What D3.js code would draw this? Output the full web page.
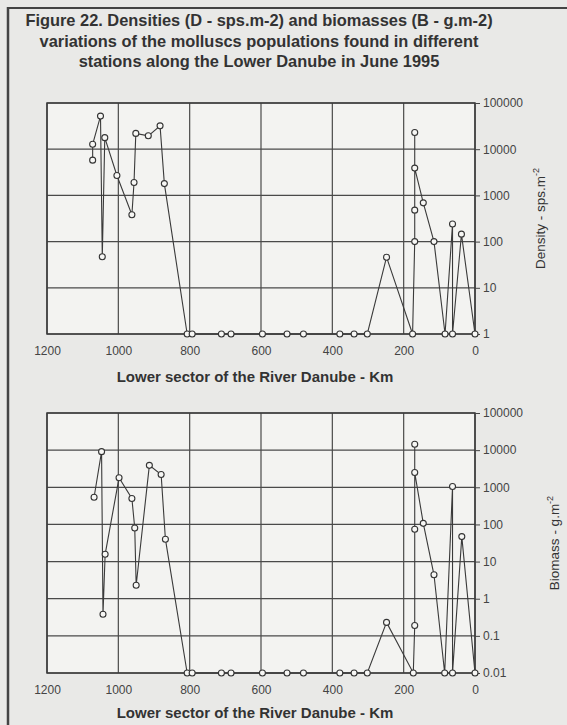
<!DOCTYPE html>
<html>
<head>
<meta charset="utf-8">
<script src="https://cdn.jsdelivr.net/npm/d3@7"></script>
<style>
 body { margin: 0; background: #e9e9e7; }
 svg { display: block; font-family: "Liberation Sans", Arial, sans-serif; }
</style>
</head>
<body>
<svg id="chart" width="567" height="725"></svg>
<script>
// densities, sps.m-2 (1 = nothing found)
var densKm = [1072, 1072, 1050, 1045, 1038, 1004, 962, 956, 951, 916, 883, 871,
 807, 793, 711, 684, 596, 527, 481, 379, 339, 302, 248, 175, 169, 169, 169, 169, 145, 115, 84, 63, 63, 38, 0];
var densVal = [5800, 12800, 52000, 47, 17800, 2700, 380, 1900, 22000, 19500, 32000, 1800,
 1, 1, 1, 1, 1, 1, 1, 1, 1, 1, 46, 1, 100, 480, 23000, 3900, 690, 100, 1, 240, 1, 145, 1];

// biomasses, g.m-2 (0.01 = nothing found)
var bioKm = [1068, 1047, 1043, 1037, 998, 962, 954, 950, 913, 880, 868,
 807, 793, 711, 684, 596, 527, 481, 379, 339, 302, 248, 173, 169, 169, 169, 169, 145, 115, 85, 63, 63, 37, 0];
var bioVal = [540, 9100, 0.38, 15.7, 1800, 500, 80, 2.3, 3900, 2200, 40,
 0.01, 0.01, 0.01, 0.01, 0.01, 0.01, 0.01, 0.01, 0.01, 0.01, 0.23, 0.01, 0.19, 74, 14400, 2500, 107, 4.4, 0.01, 1050, 0.01, 47, 0.01];

var kmTicks = [1200, 1000, 800, 600, 400, 200, 0];
var densTicks = [1, 10, 100, 1000, 10000, 100000];
var bioTicks = [0.01, 0.1, 1, 10, 100, 1000, 10000, 100000];

var titleLines = [
 "Figure 22. Densities (D - sps.m-2) and biomasses (B - g.m-2)",
 "variations of the molluscs populations found in different",
 "stations along the Lower Danube in June 1995"
];

var ink = "#333";
var svg = d3.select("#chart");

// frame
svg.append("line").attr("x1", 8).attr("y1", 8).attr("x2", 567).attr("y2", 8)
 .attr("stroke", "#444").attr("stroke-width", 2);
svg.append("line").attr("x1", 8).attr("y1", 7).attr("x2", 8).attr("y2", 725)
 .attr("stroke", "#444").attr("stroke-width", 2.5);

svg.selectAll(".title")
 .data(titleLines)
 .enter().append("text")
 .attr("class", "title")
 .attr("x", 259)
 .attr("y", function(d, i) { return 26 + i * 20.5; })
 .attr("text-anchor", "middle")
 .attr("font-size", 16.4)
 .attr("font-weight", "bold")
 .attr("fill", ink)
 .text(function(d) { return d; });

var x = d3.scaleLinear().domain([1200, 0]).range([47, 475]);

function panel(top, bottom, domain, ticks, km, vals, yTitle, unit, titleX, kmTitleY) {
 var y = d3.scaleLog().domain(domain).range([bottom, top]);
 var g = svg.append("g");

 g.append("rect")
  .attr("x", x(1200)).attr("y", top)
  .attr("width", x(0) - x(1200)).attr("height", bottom - top)
  .attr("fill", "#f3f3f1");

 // grid
 g.selectAll(".hg").data(ticks).enter().append("line")
  .attr("x1", x(1200)).attr("x2", x(0))
  .attr("y1", function(d) { return y(d); }).attr("y2", function(d) { return y(d); })
  .attr("stroke", "#4a4a4a").attr("stroke-width", 1.2);
 g.selectAll(".vg").data(kmTicks).enter().append("line")
  .attr("x1", function(d) { return x(d); }).attr("x2", function(d) { return x(d); })
  .attr("y1", top).attr("y2", bottom)
  .attr("stroke", "#4a4a4a").attr("stroke-width", 1.2);

 g.append("rect")
  .attr("x", x(1200)).attr("y", top)
  .attr("width", x(0) - x(1200)).attr("height", bottom - top)
  .attr("fill", "none").attr("stroke", "#3a3a3a").attr("stroke-width", 1.5);

 // right axis
 var ax = g.append("g")
  .attr("transform", "translate(" + x(0) + ",0)")
  .call(d3.axisRight(y).tickValues(ticks).tickSize(5).tickPadding(3)
   .tickFormat(function(d) { return String(d); }));
 ax.select(".domain").remove();
 ax.selectAll("line").attr("stroke", "#444");
 ax.selectAll("text").attr("font-size", 12).attr("fill", "#444")
  .attr("font-family", "Liberation Sans, Arial, sans-serif");

 // bottom labels
 var bx = g.append("g")
  .attr("transform", "translate(0," + bottom + ")")
  .call(d3.axisBottom(x).tickValues(kmTicks).tickSize(0).tickPadding(12)
   .tickFormat(d3.format("d")));
 bx.select(".domain").remove();
 bx.selectAll("text").attr("font-size", 12).attr("fill", "#444")
  .attr("font-family", "Liberation Sans, Arial, sans-serif");

 g.append("text")
  .attr("x", 255).attr("y", kmTitleY)
  .attr("text-anchor", "middle")
  .attr("font-size", 15).attr("font-weight", "bold").attr("fill", ink)
  .text("Lower sector of the River Danube - Km");

 var t = g.append("text")
  .attr("transform", "translate(" + titleX + "," + ((top + bottom) / 2) + ") rotate(-90)")
  .attr("text-anchor", "middle")
  .attr("font-size", 13.5).attr("fill", ink);
 t.append("tspan").text(yTitle + " - " + unit);
 t.append("tspan").attr("dy", -6).attr("font-size", 9).text("-2");

 var pts = km.map(function(k, i) { return [k, vals[i]]; });
 var line = d3.line()
  .x(function(d) { return x(d[0]); })
  .y(function(d) { return y(d[1]); });

 g.append("path").datum(pts)
  .attr("d", line)
  .attr("fill", "none").attr("stroke", "#3a3a3a").attr("stroke-width", 1.1);

 g.selectAll(".pt").data(pts).enter().append("circle")
  .attr("cx", function(d) { return x(d[0]); })
  .attr("cy", function(d) { return y(d[1]); })
  .attr("r", 3)
  .attr("fill", "#f7f7f5").attr("stroke", "#333").attr("stroke-width", 1.1);
}

panel(103, 334, [1, 100000], densTicks, densKm, densVal, "Density", "sps.m", 545, 382);
panel(413, 673, [0.01, 100000], bioTicks, bioKm, bioVal, "Biomass", "g.m", 559, 718);
</script>
</body>
</html>
